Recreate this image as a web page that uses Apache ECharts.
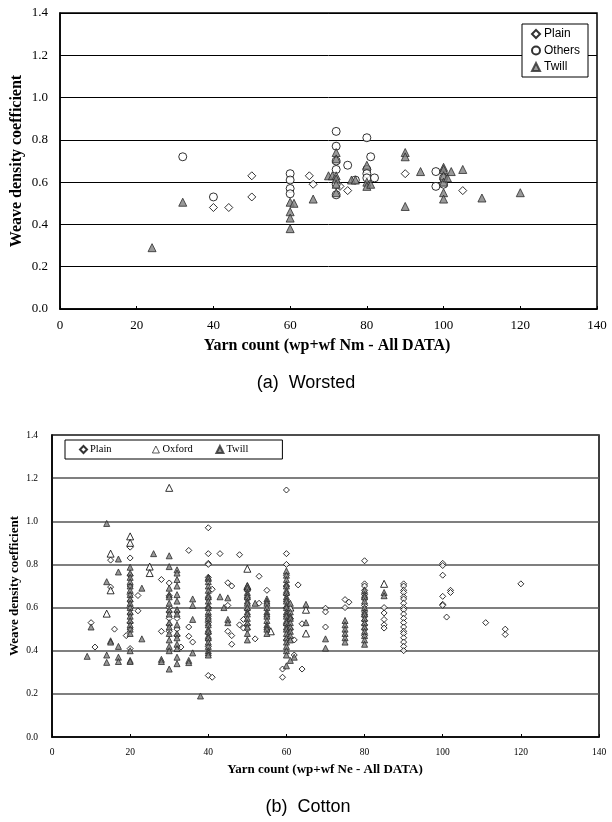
<!DOCTYPE html>
<html>
<head>
<meta charset="utf-8">
<script src="https://cdn.jsdelivr.net/npm/echarts@6/dist/echarts.min.js"></script>
<style>
  html, body { margin: 0; padding: 0; background: #fff; }
  #chart { width: 612px; height: 822px; }
</style>
</head>
<body>
<div id="chart"></div>
<script>
// ---- data (a) Worsted : [yarn count Nm, weave density coefficient]
var worstedPlain = [
  [40, 0.48], [44, 0.48], [50, 0.53], [50, 0.63], [65, 0.63], [66, 0.59],
  [73, 0.58], [75, 0.56], [90, 0.64], [105, 0.56]
];
var worstedOthers = [
  [32, 0.72], [40, 0.53], [60, 0.64], [60, 0.61], [60, 0.57], [60, 0.545],
  [72, 0.84], [72, 0.77], [72, 0.70], [72, 0.66], [72, 0.59], [72, 0.54],
  [75, 0.68], [77, 0.61], [80, 0.81], [80, 0.66], [80, 0.64], [80, 0.62],
  [81, 0.72], [82, 0.62], [98, 0.65], [98, 0.58], [100, 0.59], [100, 0.62]
];
var worstedTwill = [
  [24, 0.29], [32, 0.505], [60, 0.505], [61, 0.50], [60, 0.46], [60, 0.43],
  [60, 0.38], [66, 0.52], [70, 0.63], [71, 0.63], [72, 0.74], [72, 0.71],
  [72, 0.63], [72, 0.615], [72, 0.59], [72, 0.55], [76, 0.61], [77, 0.61],
  [80, 0.68], [80, 0.60], [80, 0.58], [81, 0.59], [90, 0.74], [90, 0.72],
  [90, 0.485], [94, 0.65], [100, 0.67], [100, 0.66], [100, 0.63], [100, 0.60],
  [100, 0.55], [100, 0.52], [101, 0.62], [102, 0.65], [105, 0.66], [110, 0.525],
  [120, 0.55]
];

// ---- data (b) Cotton : [yarn count Ne, weave density coefficient]
var cottonPlain = [
  [10, 0.53], [11, 0.417], [15, 0.82], [15, 0.695], [16, 0.50], [19, 0.47],
  [20, 0.88], [20, 0.83], [20, 0.75], [20, 0.70], [20, 0.66], [20, 0.63], [20, 0.60],
  [20, 0.57], [20, 0.53], [20, 0.50], [20, 0.41],
  [22, 0.656], [22, 0.585], [28, 0.73], [28, 0.49],
  [30, 0.714], [30, 0.655], [30, 0.60], [30, 0.58], [30, 0.55], [30, 0.52], [30, 0.49],
  [32, 0.58], [32, 0.55], [32, 0.50], [32, 0.47], [33, 0.417],
  [35, 0.865], [35, 0.51], [35, 0.467], [36, 0.44],
  [40, 0.97], [40, 0.85], [40, 0.805], [40, 0.80], [40, 0.74], [40, 0.64], [40, 0.60],
  [40, 0.56], [40, 0.53], [40, 0.48], [40, 0.45], [40, 0.42], [40, 0.285], [41, 0.277],
  [41, 0.685], [43, 0.85], [45, 0.715], [46, 0.70], [45, 0.61], [45, 0.49], [46, 0.47],
  [46, 0.43], [48, 0.845], [48, 0.52],
  [50, 0.68], [50, 0.64], [50, 0.59], [50, 0.52], [50, 0.50], [49, 0.545], [49, 0.505],
  [52, 0.455], [53, 0.745], [53, 0.62], [55, 0.68],
  [60, 1.145], [60, 0.85], [60, 0.80], [60, 0.75], [60, 0.70], [60, 0.66], [60, 0.60],
  [60, 0.52], [60, 0.45], [59, 0.315], [59, 0.277], [61, 0.55], [61, 0.50], [62, 0.45],
  [62, 0.38], [63, 0.705], [64, 0.525], [64, 0.315],
  [70, 0.597], [70, 0.58], [70, 0.51], [75, 0.637], [75, 0.60], [76, 0.625],
  [80, 0.817], [80, 0.71], [80, 0.70], [80, 0.68], [80, 0.66], [80, 0.64], [80, 0.61],
  [80, 0.58], [80, 0.56], [80, 0.54], [80, 0.52], [80, 0.50], [80, 0.47],
  [85, 0.60], [85, 0.575], [85, 0.545], [85, 0.52], [85, 0.505],
  [90, 0.71], [90, 0.70], [90, 0.68], [90, 0.67], [90, 0.65], [90, 0.64], [90, 0.62],
  [90, 0.60], [90, 0.59], [90, 0.57], [90, 0.55], [90, 0.53], [90, 0.51], [90, 0.49],
  [90, 0.48], [90, 0.46], [90, 0.44], [90, 0.42], [90, 0.40],
  [100, 0.805], [100, 0.795], [100, 0.75], [100, 0.652], [100, 0.615], [100, 0.61],
  [101, 0.556], [102, 0.68], [102, 0.67], [111, 0.53], [116, 0.50], [116, 0.475], [120, 0.71]
];
var cottonOxford = [
  [14, 0.572], [15, 0.85], [15, 0.68], [20, 0.93], [20, 0.90], [25, 0.79], [25, 0.76],
  [30, 1.155], [50, 0.78], [50, 0.70], [56, 0.49], [61, 0.60], [65, 0.59], [65, 0.48],
  [85, 0.71]
];
var cottonTwill = [
  [9, 0.374], [10, 0.51], [14, 0.99], [14, 0.72], [14, 0.38], [14, 0.346], [15, 0.446],
  [15, 0.44], [17, 0.825], [17, 0.765], [17, 0.42], [17, 0.37], [17, 0.35],
  [20, 0.787], [20, 0.76], [20, 0.74], [20, 0.72], [20, 0.70], [20, 0.68], [20, 0.66],
  [20, 0.64], [20, 0.62], [20, 0.60], [20, 0.58], [20, 0.56], [20, 0.54], [20, 0.52],
  [20, 0.50], [20, 0.48], [20, 0.40], [20, 0.355], [20, 0.35],
  [23, 0.69], [23, 0.455], [26, 0.85], [28, 0.36], [28, 0.35],
  [30, 0.84], [30, 0.79], [30, 0.69], [30, 0.66], [30, 0.65], [30, 0.62], [30, 0.59],
  [30, 0.57], [30, 0.53], [30, 0.51], [30, 0.48], [30, 0.45], [30, 0.42], [30, 0.40], [30, 0.315],
  [32, 0.775], [32, 0.76], [32, 0.73], [32, 0.70], [32, 0.66], [32, 0.63], [32, 0.59],
  [32, 0.57], [32, 0.52], [32, 0.48], [32, 0.46], [32, 0.43], [32, 0.41], [32, 0.37], [32, 0.34],
  [36, 0.64], [36, 0.61], [36, 0.545], [36, 0.39], [35, 0.355], [35, 0.345], [38, 0.19],
  [40, 0.74], [40, 0.735], [40, 0.72], [40, 0.70], [40, 0.68], [40, 0.66], [40, 0.65],
  [40, 0.63], [40, 0.61], [40, 0.60], [40, 0.58], [40, 0.56], [40, 0.55], [40, 0.53],
  [40, 0.52], [40, 0.50], [40, 0.49], [40, 0.47], [40, 0.46], [40, 0.44], [40, 0.42],
  [40, 0.40], [40, 0.39], [40, 0.38],
  [43, 0.65], [44, 0.60], [45, 0.645], [45, 0.545], [45, 0.53],
  [50, 0.70], [50, 0.69], [50, 0.67], [50, 0.66], [50, 0.65], [50, 0.63], [50, 0.62],
  [50, 0.60], [50, 0.58], [50, 0.57], [50, 0.55], [50, 0.53], [50, 0.51], [50, 0.48], [50, 0.45],
  [52, 0.62],
  [55, 0.64], [55, 0.63], [55, 0.62], [55, 0.60], [55, 0.58], [55, 0.57], [55, 0.56],
  [55, 0.54], [55, 0.52], [55, 0.51], [55, 0.50], [55, 0.48],
  [60, 0.77], [60, 0.75], [60, 0.73], [60, 0.71], [60, 0.70], [60, 0.68], [60, 0.67],
  [60, 0.65], [60, 0.64], [60, 0.63], [60, 0.61], [60, 0.60], [60, 0.58], [60, 0.57],
  [60, 0.56], [60, 0.54], [60, 0.53], [60, 0.51], [60, 0.50], [60, 0.48], [60, 0.46],
  [60, 0.44], [60, 0.42], [60, 0.40], [60, 0.38], [60, 0.33],
  [61, 0.62], [61, 0.58], [61, 0.56], [61, 0.55], [61, 0.53], [61, 0.51], [61, 0.49],
  [61, 0.47], [61, 0.45], [62, 0.37], [61, 0.355],
  [65, 0.615], [65, 0.53], [70, 0.455], [70, 0.412],
  [75, 0.54], [75, 0.52], [75, 0.50], [75, 0.48], [75, 0.46], [75, 0.44],
  [80, 0.68], [80, 0.66], [80, 0.65], [80, 0.63], [80, 0.60], [80, 0.58], [80, 0.57],
  [80, 0.55], [80, 0.53], [80, 0.51], [80, 0.49], [80, 0.47], [80, 0.45], [80, 0.43],
  [85, 0.67], [85, 0.655]
];

var xTicks = { min: 0, max: 140, interval: 20 };
var yTicks = { min: 0, max: 1.4, interval: 0.2 };

var serif = '"Liberation Serif", "Times New Roman", serif';
var sans = '"Liberation Sans", Arial, sans-serif';

function xAxisFor(idx, fontSize, margin) {
  return {
    gridIndex: idx, type: 'value', min: xTicks.min, max: xTicks.max, interval: xTicks.interval,
    axisLine: { show: true, onZero: false, lineStyle: { color: '#000', width: 1.5 } },
    axisTick: { show: true, inside: true, length: 3, lineStyle: { color: '#000', width: 1 } },
    splitLine: { show: false },
    axisLabel: { fontFamily: serif, fontSize: fontSize, color: '#000', margin: margin }
  };
}
function yAxisFor(idx, fontSize, margin, gridColor, gridWidth) {
  return {
    gridIndex: idx, type: 'value', min: yTicks.min, max: yTicks.max, interval: yTicks.interval,
    axisLine: { show: true, onZero: false, lineStyle: { color: '#000', width: 1.5 } },
    axisTick: { show: false },
    splitLine: { show: true, lineStyle: { color: gridColor, width: gridWidth } },
    axisLabel: {
      fontFamily: serif, fontSize: fontSize, color: '#000', margin: margin,
      formatter: function (v) { return v.toFixed(1); }
    }
  };
}

function openStyle() { return { color: '#fff', borderColor: '#000', borderWidth: 1 }; }
function twillStyle() { return { color: '#808080', borderColor: '#2a2a2a', borderWidth: 1 }; }

var chart = echarts.init(document.getElementById('chart'), null, { renderer: 'canvas' });
chart.setOption({
  animation: false,
  backgroundColor: '#fff',
  grid: [
    { left: 60, top: 13, width: 537, height: 296, show: true, borderColor: '#000', borderWidth: 1.5 },
    { left: 52, top: 435, width: 547, height: 302, show: true, borderColor: '#000', borderWidth: 1.5 }
  ],
  xAxis: [xAxisFor(0, 13, 10), xAxisFor(1, 9.5, 10)],
  yAxis: [yAxisFor(0, 13, 12, '#000', 1), yAxisFor(1, 9.5, 14, '#555', 1.5)],
  legend: [
    {
      data: ['Plain', 'Others', 'Twill'], orient: 'vertical', left: 522, top: 24,
      backgroundColor: '#fff', borderColor: '#000', borderWidth: 1,
      padding: [4, 8, 4, 9], itemGap: 4.5, itemWidth: 8, itemHeight: 8,
      selectedMode: false,
      textStyle: { fontFamily: sans, fontSize: 12, color: '#000', lineHeight: 12, padding: [0, 0, 0, -1] }
    },
    {
      data: [
        { name: 'Plain', textStyle: { width: 43 } },
        { name: 'Oxford', textStyle: { width: 34 },
          itemStyle: { color: '#fff', borderColor: '#000', borderWidth: 0.8 } },
        { name: 'Twill', textStyle: { width: 50 } }
      ],
      orient: 'horizontal', left: 65, top: 440,
      backgroundColor: '#fff', borderColor: '#000', borderWidth: 1,
      padding: [4, 6, 4, 14], itemGap: 19, itemWidth: 7, itemHeight: 7,
      selectedMode: false,
      textStyle: { fontFamily: serif, fontSize: 10.5, color: '#000', lineHeight: 11, padding: [0, 0, 0, -2] }
    }
  ],
  graphic: [
    { type: 'text', x: 17, y: 161, rotation: Math.PI / 2,
      style: { text: 'Weave density coefficient', font: 'bold 16px ' + serif, fill: '#000', align: 'center', verticalAlign: 'middle' } },
    { type: 'text', x: 327, y: 346,
      style: { text: 'Yarn count (wp+wf Nm - All DATA)', font: 'bold 16px ' + serif, fill: '#000', align: 'center', verticalAlign: 'middle' } },
    { type: 'text', x: 306, y: 383,
      style: { text: '(a)  Worsted', font: '18px ' + sans, fill: '#000', align: 'center', verticalAlign: 'middle' } },
    { type: 'text', x: 15, y: 586, rotation: Math.PI / 2,
      style: { text: 'Weave density coefficient', font: 'bold 13px ' + serif, fill: '#000', align: 'center', verticalAlign: 'middle' } },
    { type: 'text', x: 325, y: 770,
      style: { text: 'Yarn count (wp+wf Ne - All DATA)', font: 'bold 13px ' + serif, fill: '#000', align: 'center', verticalAlign: 'middle' } },
    { type: 'text', x: 308, y: 807,
      style: { text: '(b)  Cotton', font: '18px ' + sans, fill: '#000', align: 'center', verticalAlign: 'middle' } }
  ],
  series: [
    { type: 'scatter', name: 'Plain', xAxisIndex: 0, yAxisIndex: 0, data: worstedPlain,
      symbol: 'diamond', symbolSize: 8, itemStyle: openStyle() },
    { type: 'scatter', name: 'Others', xAxisIndex: 0, yAxisIndex: 0, data: worstedOthers,
      symbol: 'circle', symbolSize: 8, itemStyle: openStyle() },
    { type: 'scatter', name: 'Twill', xAxisIndex: 0, yAxisIndex: 0, data: worstedTwill,
      symbol: 'triangle', symbolSize: 8, itemStyle: twillStyle() },
    { type: 'scatter', name: 'Plain', xAxisIndex: 1, yAxisIndex: 1, data: cottonPlain,
      symbol: 'diamond', symbolSize: 6, itemStyle: openStyle() },
    { type: 'scatter', name: 'Oxford', xAxisIndex: 1, yAxisIndex: 1, data: cottonOxford,
      symbol: 'triangle', symbolSize: 7, itemStyle: openStyle() },
    { type: 'scatter', name: 'Twill', xAxisIndex: 1, yAxisIndex: 1, data: cottonTwill,
      symbol: 'triangle', symbolSize: 6, itemStyle: twillStyle() }
  ]
});
</script>
</body>
</html>
